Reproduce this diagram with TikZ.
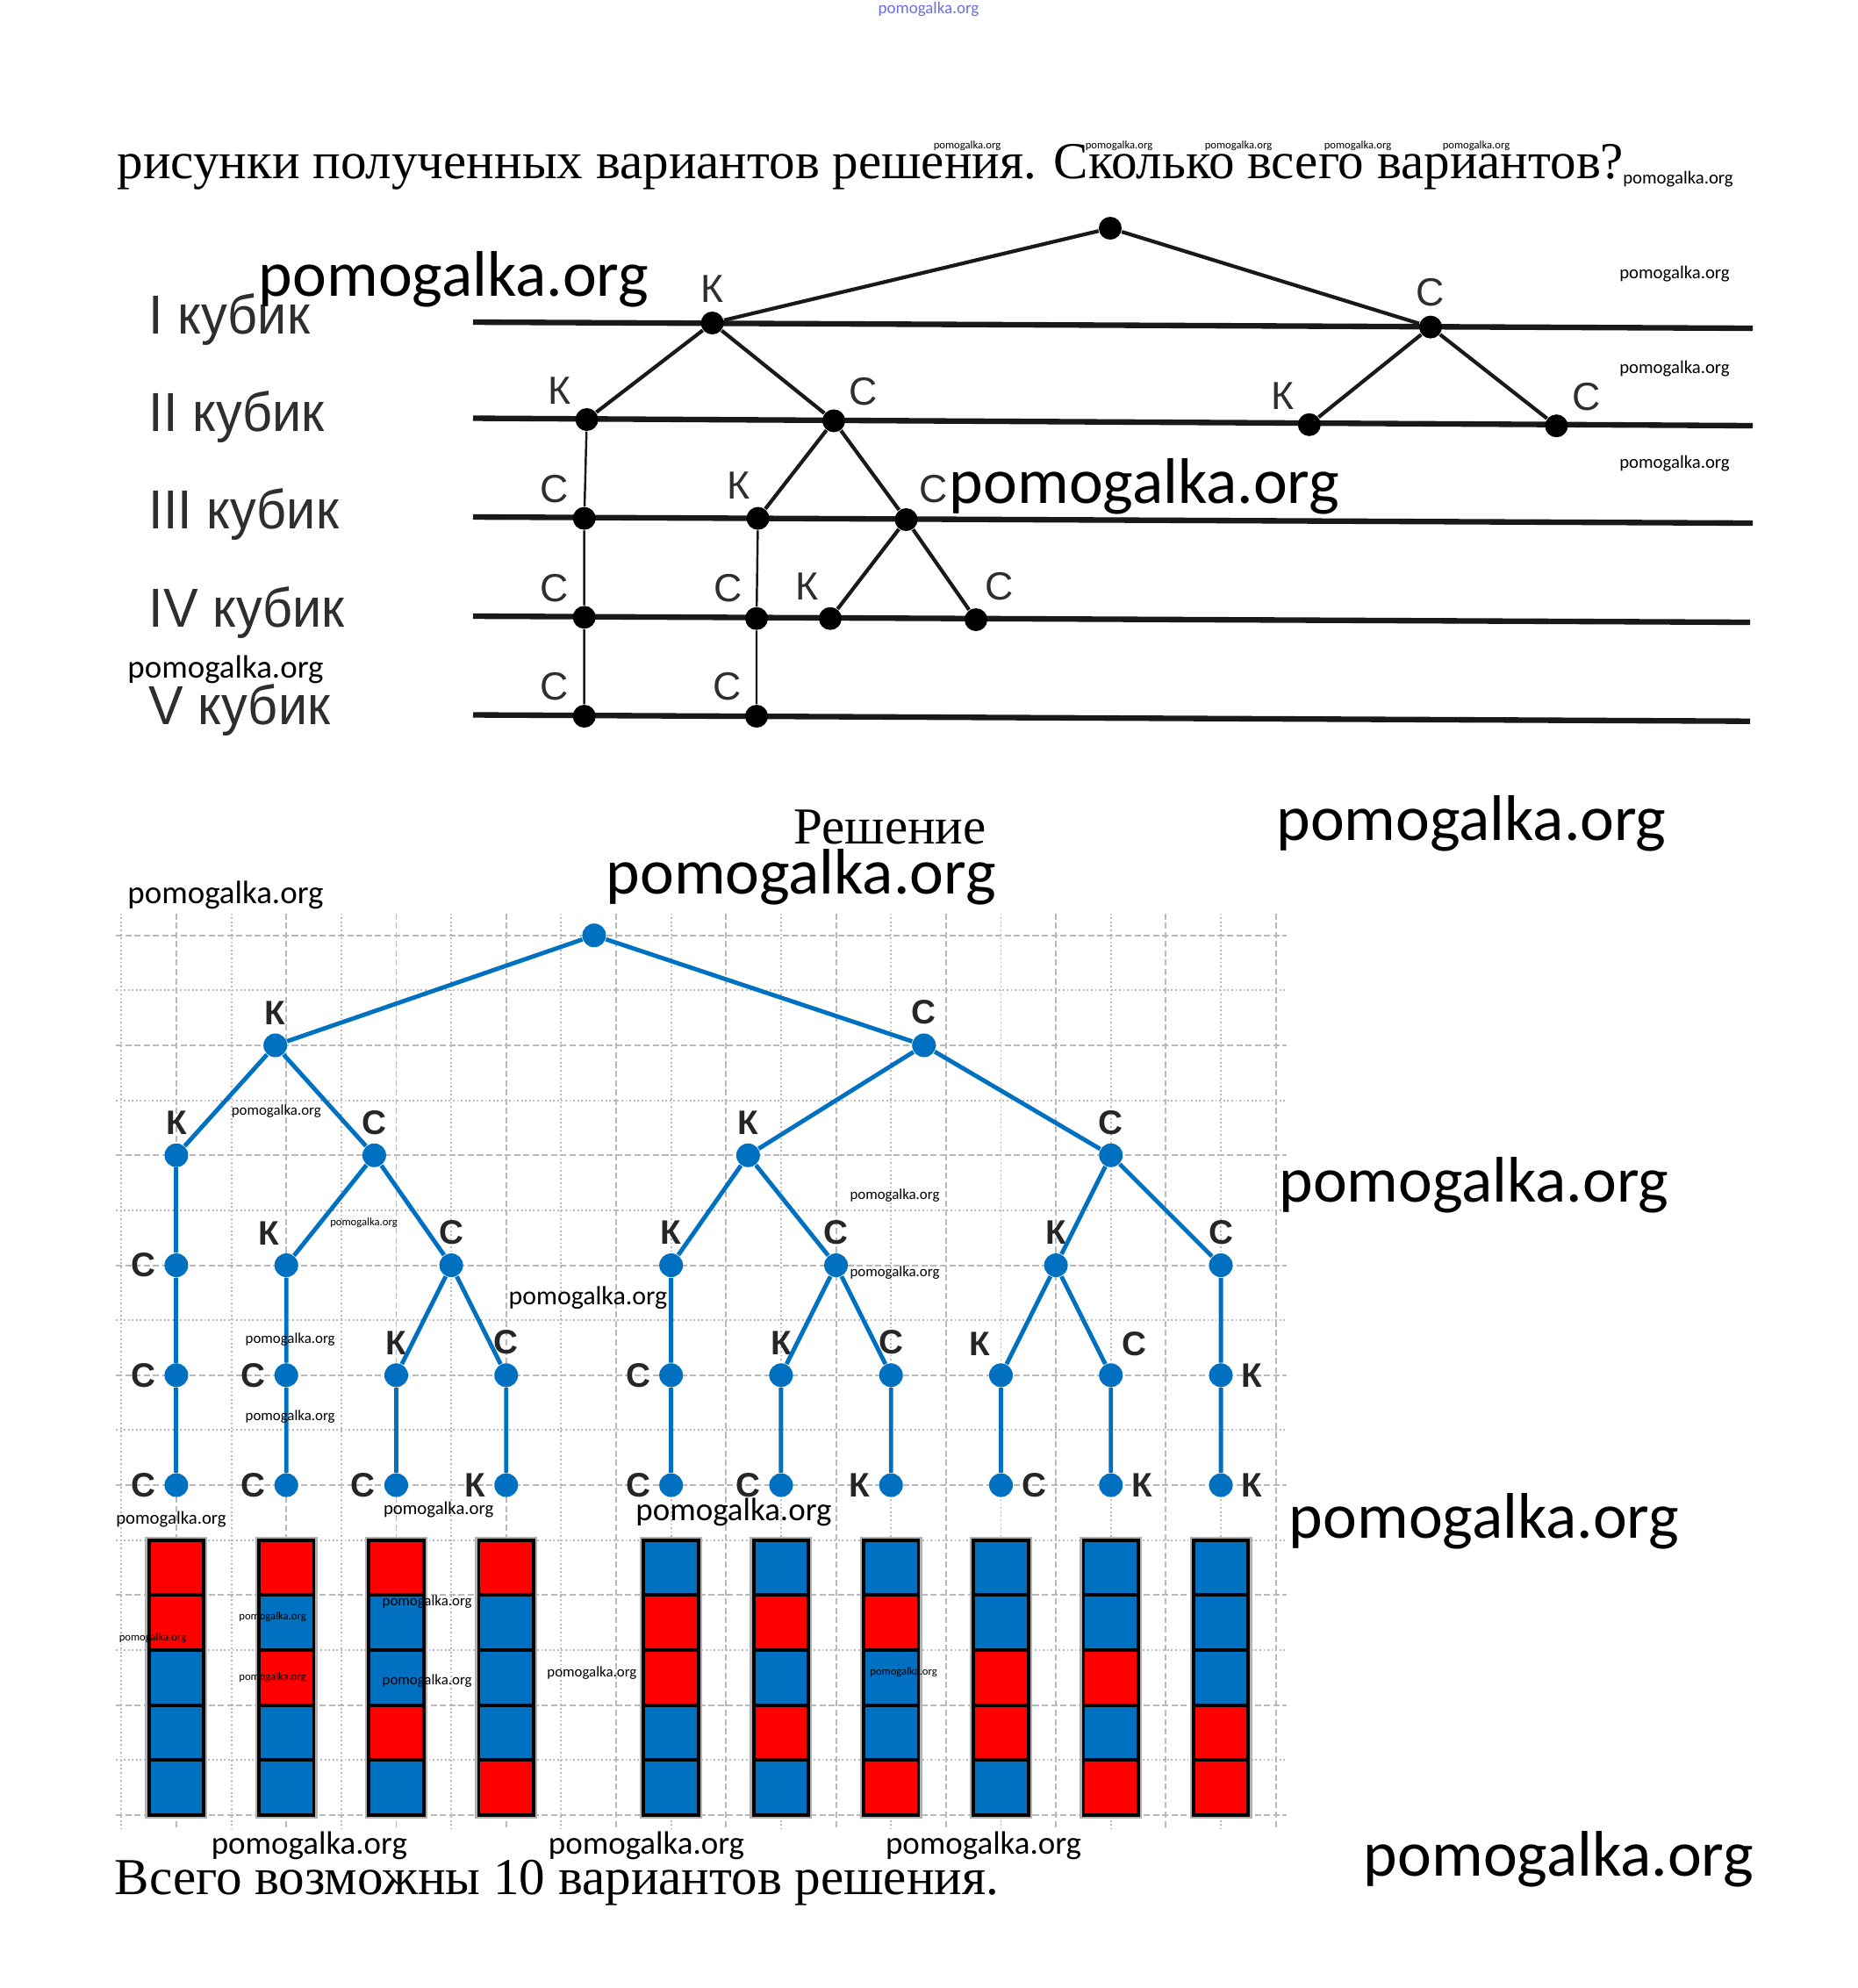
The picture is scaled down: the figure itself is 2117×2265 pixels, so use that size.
\documentclass[tikz,border=0pt]{standalone}
\usepackage{fontspec}
\setmainfont{Liberation Serif}
\newfontfamily\sansf{Liberation Sans}
\newfontfamily\rowf[FakeStretch=0.95]{Liberation Sans}
\newfontfamily\wmf{Carlito}
\usetikzlibrary{calc}
\definecolor{treeblue}{RGB}{0,112,192}
\definecolor{cubeK}{RGB}{255,0,0}
\definecolor{cubeC}{RGB}{0,112,192}
\definecolor{gridgray}{RGB}{185,185,185}
\definecolor{wmblue}{RGB}{110,110,220}
\tikzset{
  % Text lines
  head/.style={inner sep=0pt, font=\fontsize{16.8}{20}\selectfont},
  % Row names of the first picture
  rowlab/.style={inner sep=0pt, text=black!82,
    font=\rowf\fontsize{17.8}{20}\selectfont},
  % Rails and dots
  rail/.style={line width=1.8pt, black!90},
  dot/.style={circle, fill=black, inner sep=0pt, minimum size=0.26cm},
  uedge/.style={line width=1.2pt, black!90},
  uthin/.style={line width=0.7pt, black!90},
  ulab/.style={inner sep=1pt, text=black!82,
    font=\sansf\fontsize{12.7}{14}\selectfont},
  % Squared paper
  gmaj/.style={gridgray, line width=0.55pt, dash pattern=on 2pt off 1pt},
  gmin/.style={gridgray, line width=0.55pt, dash pattern=on 0.5pt off 0.8pt},
  % Blue tree
  bnode/.style={circle, fill=treeblue, inner sep=0pt, minimum size=0.27cm},
  bedge/.style={treeblue, line width=1.4pt},
  blab/.style={inner sep=1pt, text=black!85,
    font=\sansf\bfseries\fontsize{11}{13}\selectfont},
  % Cube towers
  cell/.style={draw=black, line width=1.1pt},
  halo/.style={draw=gray!60, line width=2.4pt},
  % Watermarks
  wm/.style={inner sep=0pt, font=\wmf\fontsize{#1}{#1}\selectfont},
}

\begin{document}
\begin{tikzpicture}[x=0.01cm, y=-0.01cm]
  \useasboundingbox (0,0) rectangle (2117,2265);

  \node[head, anchor=base west] (q) at (133,203)
    {рисунки полученных вариантов решения. Сколько всего вариантов?};

  % first picture: rails
  \node[rowlab, anchor=west] (c1) at (169,364) {I кубик};
  \node[rowlab, anchor=west] (c2) at (169,475) {II кубик};
  \node[rowlab, anchor=west] (c3) at (169,586) {III кубик};
  \node[rowlab, anchor=west] (c4) at (169,698) {IV кубик};
  \node[rowlab, anchor=west] (c5) at (169,809) {V кубик};

  \draw[rail] (539,367) -- (1997,374);
  \draw[rail] (539,476.5) -- (1997,485);
  \draw[rail] (539,589) -- (1997,596);
  \draw[rail] (539,702) -- (1994,709);
  \draw[rail] (539,814.5) -- (1994,821.7);

  \begin{scope}[label distance=1.5pt]
    \node[dot] (u0) at (1265,260) {};
    \node[dot, label={[ulab]90:К}] (uK) at (811.6,368) {};
    \node[dot, label={[ulab]90:С}] (uC) at (1630,372.6) {};
    \node[dot, label={[ulab]135:К}] (uKK) at (668.6,478) {};
    \node[dot, label={[ulab]45:С}] (uKC) at (950,479.4) {};
    \node[dot, label={[ulab]135:К}] (uCK) at (1491.8,483.8) {};
    \node[dot, label={[ulab]45:С}] (uCC) at (1773.4,485.2) {};
    \node[dot, label={[ulab]135:С}] (uKKC) at (665.7,590.6) {};
    \node[dot, label={[ulab]105:К}] (uKCK) at (863.6,590.6) {};
    \node[dot, label={[ulab]54:С}] (uKCC) at (1032.5,592) {};
    \node[dot, label={[ulab]135:С}] (uKKCC) at (665.7,703.3) {};
    \node[dot, label={[ulab]130:С}] (uKCKC) at (862,704.7) {};
    \node[dot, label={[ulab]118:К}] (uKCCK) at (946,704.7) {};
    \node[dot, label={[ulab]71:С}] (uKCCC) at (1112,706) {};
    \node[dot, label={[ulab]135:С}] (uKKCCC) at (665.7,816) {};
    \node[dot, label={[ulab]133:С}] (uKCKCC) at (862,816) {};
  \end{scope}

  \draw[uedge] (u0) -- (uK) (u0) -- (uC);
  \draw[uedge] (uK) -- (uKK) (uK) -- (uKC) (uC) -- (uCK) (uC) -- (uCC);
  \draw[uedge] (uKC) -- (uKCK) (uKC) -- (uKCC);
  \draw[uedge] (uKCC) -- (uKCCK) (uKCC) -- (uKCCC);
  \draw[uthin] (uKK) -- (uKKC) -- (uKKCC) -- (uKKCCC);
  \draw[uthin] (uKCK) -- (uKCKC) -- (uKCKCC);

  \node[head, anchor=base] (sol) at (1014,961.7) {Решение};

  % second picture, one unit = one square
  \begin{scope}[shift={(138.3,1065.7)}, x=0.626cm, y=-0.626cm]
    \foreach \i in {0,...,21}{
      \ifodd\i \def\gs{gmaj}\else \def\gs{gmin}\fi
      \draw[\gs] (\i,-0.4) -- (\i,16.25);
    }
    \foreach \j in {0,...,16}{
      \ifodd\j \def\gs{gmin}\else \def\gs{gmaj}\fi
      \draw[\gs] (-0.1,\j) -- (21.2,\j);
    }

    \begin{scope}[label distance=1.5pt]
      \node[bnode] (r) at (8.6,0) {};
      \node[bnode, label={[blab]90:К}] (rK) at (2.8,2) {};
      \node[bnode, label={[blab]90:С}] (rC) at (14.6,2) {};
      \node[bnode, label={[blab]90:К}] (rKK) at (1,4) {};
      \node[bnode, label={[blab]90:С}] (rKC) at (4.6,4) {};
      \node[bnode, label={[blab]90:К}] (rCK) at (11.4,4) {};
      \node[bnode, label={[blab]90:С}] (rCC) at (18,4) {};
      \node[bnode, label={[blab]180:С}] (rKKC) at (1,6) {};
      \node[bnode, label={[blab]100:К}] (rKCK) at (3,6) {};
      \node[bnode, label={[blab]90:С}] (rKCC) at (6,6) {};
      \node[bnode, label={[blab]90:К}] (rCKK) at (10,6) {};
      \node[bnode, label={[blab]90:С}] (rCKC) at (13,6) {};
      \node[bnode, label={[blab]90:К}] (rCCK) at (17,6) {};
      \node[bnode, label={[blab]90:С}] (rCCC) at (20,6) {};
      \node[bnode, label={[blab]180:С}] (rKKCC) at (1,8) {};
      \node[bnode, label={[blab]180:С}] (rKCKC) at (3,8) {};
      \node[bnode, label={[blab]90:К}] (rKCCK) at (5,8) {};
      \node[bnode, label={[blab]90:С}] (rKCCC) at (7,8) {};
      \node[bnode, label={[blab]180:С}] (rCKKC) at (10,8) {};
      \node[bnode, label={[blab]90:К}] (rCKCK) at (12,8) {};
      \node[bnode, label={[blab]90:С}] (rCKCC) at (14,8) {};
      \node[bnode, label={[blab]115:К}] (rCCKK) at (16,8) {};
      \node[bnode, label={[blab]65:С}] (rCCKC) at (18,8) {};
      \node[bnode, label={[blab]0:К}] (rCCCK) at (20,8) {};
      \node[bnode, label={[blab]180:С}] (rKKCCC) at (1,10) {};
      \node[bnode, label={[blab]180:С}] (rKCKCC) at (3,10) {};
      \node[bnode, label={[blab]180:С}] (rKCCKC) at (5,10) {};
      \node[bnode, label={[blab]180:К}] (rKCCCK) at (7,10) {};
      \node[bnode, label={[blab]180:С}] (rCKKCC) at (10,10) {};
      \node[bnode, label={[blab]180:С}] (rCKCKC) at (12,10) {};
      \node[bnode, label={[blab]180:К}] (rCKCCK) at (14,10) {};
      \node[bnode, label={[blab]0:С}] (rCCKKC) at (16,10) {};
      \node[bnode, label={[blab]0:К}] (rCCKCK) at (18,10) {};
      \node[bnode, label={[blab]0:К}] (rCCCKK) at (20,10) {};
    \end{scope}

    \draw[bedge] (r) -- (rK) (r) -- (rC);
    \draw[bedge] (rK) -- (rKK) (rK) -- (rKC) (rC) -- (rCK) (rC) -- (rCC);
    \draw[bedge] (rKK) -- (rKKC) -- (rKKCC) -- (rKKCCC);
    \draw[bedge] (rKC) -- (rKCK) -- (rKCKC) -- (rKCKCC);
    \draw[bedge] (rKC) -- (rKCC) -- (rKCCK) -- (rKCCKC);
    \draw[bedge] (rKCC) -- (rKCCC) -- (rKCCCK);
    \draw[bedge] (rCK) -- (rCKK) -- (rCKKC) -- (rCKKCC);
    \draw[bedge] (rCK) -- (rCKC) -- (rCKCK) -- (rCKCKC);
    \draw[bedge] (rCKC) -- (rCKCC) -- (rCKCCK);
    \draw[bedge] (rCC) -- (rCCK) -- (rCCKK) -- (rCCKKC);
    \draw[bedge] (rCCK) -- (rCCKC) -- (rCCKCK);
    \draw[bedge] (rCC) -- (rCCC) -- (rCCCK) -- (rCCCKK);

    % towers, K = red, C = blue
    \foreach \c/\a/\b/\d/\e/\f in {1/K/K/C/C/C, 3/K/C/K/C/C, 5/K/C/C/K/C,
        7/K/C/C/C/K, 10/C/K/K/C/C, 12/C/K/C/K/C, 14/C/K/C/C/K,
        16/C/C/K/K/C, 18/C/C/K/C/K, 20/C/C/C/K/K}{
      \draw[halo] (\c-0.5,11) rectangle (\c+0.5,16);
      \foreach \col [count=\r from 11] in {\a,\b,\d,\e,\f}
        \draw[cell, fill=cube\col] (\c-0.5,\r) rectangle (\c+0.5,\r+1);
    }
  \end{scope}

  \node[head, anchor=base west] (ans) at (130,2158)
    {Всего возможны 10 вариантов решения.};

  % watermarks
  \node[wm=5.4, text=wmblue] (wm0) at (1058,11) {pomogalka.org};
  \foreach \x/\y/\s [count=\n] in {517/318/20.9, 1304/554.5/20.9,
      1676.6/938.7/20.9, 912.7/999.3/20.9, 1679.5/1350/20.9,
      1691/1733/20.9, 1776/2118.5/20.9,
      257/762.5/10.5, 257/1019.5/10.5, 836/1722.8/10.5,
      352.4/2102.6/10.5, 736.5/2102.6/10.5, 1120.6/2102.6/10.5,
      670/1478.8/8.5,
      1912/203.6/5.9, 1908/312/5.9, 1908/420/5.9, 1908/528.5/5.9,
      195/1731.5/5.9, 499.7/1720/5.9,
      314.8/1266.5/4.8, 1019.5/1361.8/4.8, 1019.5/1450/4.8,
      330.7/1526.4/4.8, 330.7/1614.5/4.8, 486.7/1825.3/4.8,
      486.7/1915/4.8, 674.4/1906.2/4.8,
      1102/166/3.6, 1275/166/3.6, 1411/166/3.6, 1547/166/3.6,
      1682/166/3.6, 414.5/1393.6/3.6, 174/1866/3.6,
      310.6/1842/3.6, 310.6/1910.7/3.6, 1029.6/1904.8/3.6}
    \node[wm=\s] (wm\n) at (\x,\y) {pomogalka.org};
\end{tikzpicture}
\end{document}
